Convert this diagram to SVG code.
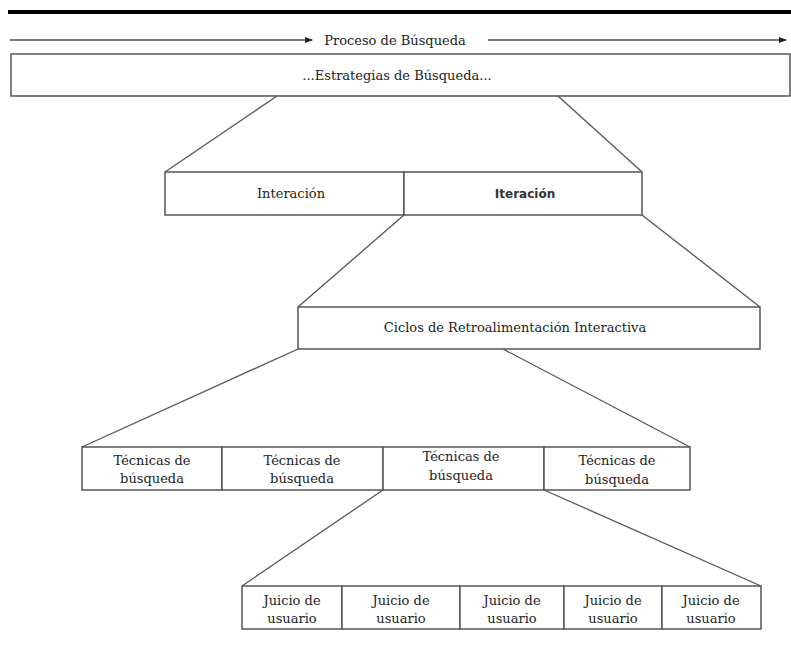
<svg xmlns="http://www.w3.org/2000/svg" width="791" height="648" viewBox="0 0 791 648">
<defs>
<marker id="ah" markerWidth="8" markerHeight="8" refX="7" refY="4" orient="auto" markerUnits="userSpaceOnUse">
<path d="M0,1 L8,4 L0,7 Z" fill="#222"/>
</marker>
<style>
.box{fill:#fff;stroke:#555;stroke-width:1.5}
.con{stroke:#555;stroke-width:1.3;fill:none}
.t{font-family:"DejaVu Serif","Liberation Serif",serif;font-size:13px;fill:#222;text-anchor:middle}
.b{font-family:"DejaVu Sans","Liberation Sans",sans-serif;font-size:12px;font-weight:bold;fill:#333;text-anchor:middle}
</style>
</defs>
<rect width="791" height="648" fill="#fff"/>
<line x1="8" y1="12" x2="791" y2="12" stroke="#000" stroke-width="4"/>
<g id="connectors">
<line class="con" x1="10" y1="40" x2="312" y2="40" stroke-width="2.5" marker-end="url(#ah)"/>
<line class="con" x1="488" y1="40" x2="786" y2="40" stroke-width="2.5" marker-end="url(#ah)"/>
<line class="con" x1="277" y1="96" x2="165" y2="172"/>
<line class="con" x1="558" y1="96" x2="642" y2="172"/>
<line class="con" x1="404" y1="215" x2="298" y2="307"/>
<line class="con" x1="642" y1="215" x2="760" y2="307"/>
<line class="con" x1="298" y1="349" x2="82" y2="447"/>
<line class="con" x1="503" y1="349" x2="690" y2="447"/>
<line class="con" x1="383" y1="490" x2="242" y2="586"/>
<line class="con" x1="544" y1="490" x2="761" y2="586"/>
</g>
<g id="proceso">
<text class="t" x="395" y="45">Proceso de Búsqueda</text>
</g>
<g id="estrategias">
<rect class="box" x="11" y="54" width="779" height="42"/>
<text class="t" x="397" y="80">...Estrategias de Búsqueda...</text>
</g>
<g id="interaccion">
<rect class="box" x="165" y="172" width="239" height="43"/>
<text class="t" x="291" y="198">Interación</text>
</g>
<g id="iteracion">
<rect class="box" x="404" y="172" width="238" height="43"/>
<text class="b" x="525" y="198">Iteración</text>
</g>
<g id="ciclos">
<rect class="box" x="298" y="307" width="462" height="42"/>
<text class="t" x="515" y="332">Ciclos de Retroalimentación Interactiva</text>
</g>
<g id="tecnicas1">
<rect class="box" x="82" y="447" width="140" height="43"/>
<text class="t" x="152" y="465">Técnicas de</text>
<text class="t" x="152" y="483">búsqueda</text>
</g>
<g id="tecnicas2">
<rect class="box" x="222" y="447" width="161" height="43"/>
<text class="t" x="302" y="465">Técnicas de</text>
<text class="t" x="302" y="483">búsqueda</text>
</g>
<g id="tecnicas3">
<rect class="box" x="383" y="447" width="161" height="43"/>
<text class="t" x="461" y="461">Técnicas de</text>
<text class="t" x="461" y="480">búsqueda</text>
</g>
<g id="tecnicas4">
<rect class="box" x="544" y="447" width="146" height="43"/>
<text class="t" x="617" y="465">Técnicas de</text>
<text class="t" x="617" y="484">búsqueda</text>
</g>
<g id="juicio1">
<rect class="box" x="242" y="586" width="100" height="43"/>
<text class="t" x="292" y="605">Juicio de</text>
<text class="t" x="292" y="623">usuario</text>
</g>
<g id="juicio2">
<rect class="box" x="342" y="586" width="118" height="43"/>
<text class="t" x="401" y="605">Juicio de</text>
<text class="t" x="401" y="623">usuario</text>
</g>
<g id="juicio3">
<rect class="box" x="460" y="586" width="104" height="43"/>
<text class="t" x="512" y="605">Juicio de</text>
<text class="t" x="512" y="623">usuario</text>
</g>
<g id="juicio4">
<rect class="box" x="564" y="586" width="98" height="43"/>
<text class="t" x="613" y="605">Juicio de</text>
<text class="t" x="613" y="623">usuario</text>
</g>
<g id="juicio5">
<rect class="box" x="662" y="586" width="99" height="43"/>
<text class="t" x="711" y="605">Juicio de</text>
<text class="t" x="711" y="623">usuario</text>
</g>
</svg>
